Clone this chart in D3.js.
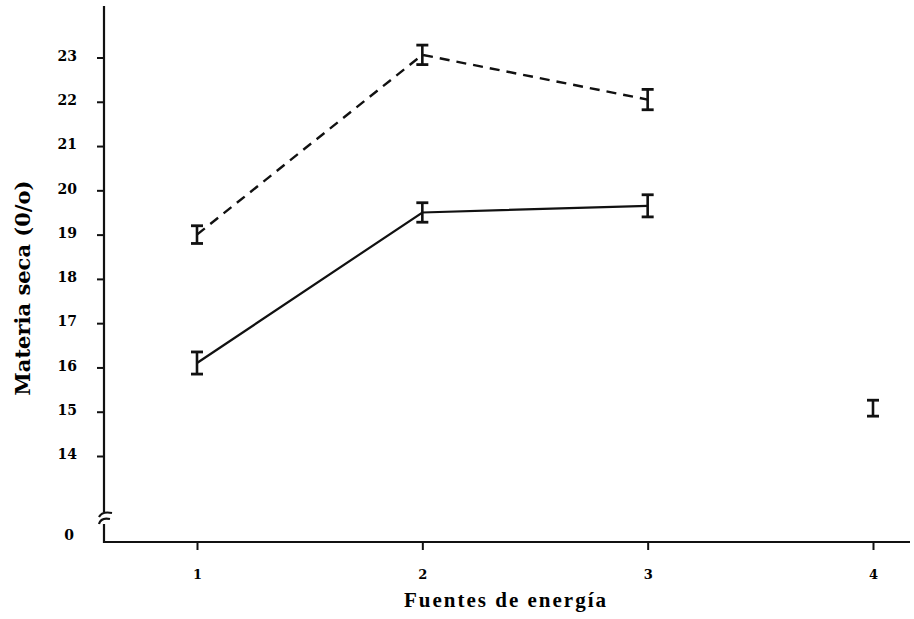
<!DOCTYPE html>
<html>
<head>
<meta charset="utf-8">
<script src="https://cdn.jsdelivr.net/npm/d3@7"></script>
<style>
  html, body { margin: 0; padding: 0; background: #fff; }
  svg { display: block; }
  text { font-family: "Liberation Serif", "DejaVu Serif", serif; fill: #000; }
</style>
</head>
<body>
<svg id="chart" width="914" height="619"></svg>
<script>
// Energy sources on the x axis
const fuentes = [1, 2, 3, 4];

// Dry matter (%) by energy source, with standard error
const serieDiscontinua = [19.0, 23.06, 22.05];
const errorDiscontinua = [0.2, 0.22, 0.23];
const serieContinua = [16.1, 19.5, 19.65];
const errorContinua = [0.25, 0.22, 0.25];
const puntoAislado = [15.08];
const errorAislado = [0.18];

const yTicks = [0, 14, 15, 16, 17, 18, 19, 20, 21, 22, 23];

const svg = d3.select("#chart");

const x = d3.scaleLinear().domain([1, 4]).range([197, 873]);
// broken axis: the 0–14 stretch is compressed below the break
const y = d3.scaleLinear().domain([0, 14, 23]).range([542, 456, 57.5]);

const ink = "#111";
const tickFont = "'DejaVu Serif', serif";

// axes
const yAxis = svg.append("g")
  .attr("transform", "translate(104,0)")
  .call(d3.axisLeft(y).tickValues(yTicks).tickSize(7).tickPadding(20).tickFormat(d3.format("d")));
yAxis.select(".domain").remove();
yAxis.selectAll(".tick line").attr("stroke", ink).attr("stroke-width", 2);
yAxis.selectAll(".tick text")
  .attr("font-size", 14).attr("font-weight", "bold")
  .attr("dy", "0.2em")
  .style("font-family", tickFont);
yAxis.selectAll(".tick").filter(d => d === 0).select("line").remove();
yAxis.selectAll(".tick").filter(d => d === 0).select("text").attr("dy", "-0.2em").attr("x", -30);

const xAxis = svg.append("g")
  .attr("transform", "translate(0,542)")
  .call(d3.axisBottom(x).tickValues(fuentes).tickSize(8).tickPadding(20).tickFormat(d3.format("d")));
xAxis.select(".domain").remove();
xAxis.selectAll(".tick line").attr("stroke", ink).attr("stroke-width", 2);
xAxis.selectAll(".tick text")
  .attr("font-size", 13).attr("font-weight", "bold")
  .style("font-family", tickFont);

// axis lines
svg.append("line").attr("x1", 104).attr("x2", 104).attr("y1", 6).attr("y2", 543)
  .attr("stroke", ink).attr("stroke-width", 2.2);
svg.append("line").attr("x1", 103).attr("x2", 910).attr("y1", 542).attr("y2", 542)
  .attr("stroke", ink).attr("stroke-width", 2.2);

// axis break mark
svg.append("rect").attr("x", 101).attr("y", 512).attr("width", 7).attr("height", 12).attr("fill", "#fff");
svg.append("path").attr("d", "M99,517 Q102,511 112,513").attr("fill", "none").attr("stroke", ink).attr("stroke-width", 2.2);
svg.append("path").attr("d", "M99,524 Q101,517 110,519").attr("fill", "none").attr("stroke", ink).attr("stroke-width", 2.2);

// lines
const line = d3.line().x((d, i) => x(fuentes[i])).y(d => y(d));

svg.append("path").datum(serieDiscontinua)
  .attr("d", line).attr("fill", "none").attr("stroke", ink)
  .attr("stroke-width", 2.4).attr("stroke-dasharray", "10,7");

svg.append("path").datum(serieContinua)
  .attr("d", line).attr("fill", "none").attr("stroke", ink)
  .attr("stroke-width", 2.2);

// error bars
function errorBars(values, errors, offset) {
  const g = svg.append("g");
  values.forEach((v, i) => {
    const cx = x(fuentes[i + offset]);
    const top = y(v + errors[i]);
    const bot = y(v - errors[i]);
    g.append("line").attr("x1", cx).attr("x2", cx).attr("y1", top).attr("y2", bot)
      .attr("stroke", ink).attr("stroke-width", 2.6);
    [top, bot].forEach(yy => {
      g.append("line").attr("x1", cx - 6).attr("x2", cx + 6).attr("y1", yy).attr("y2", yy)
        .attr("stroke", ink).attr("stroke-width", 2.8);
    });
  });
}
errorBars(serieDiscontinua, errorDiscontinua, 0);
errorBars(serieContinua, errorContinua, 0);
errorBars(puntoAislado, errorAislado, 3);

// axis titles
svg.append("text")
  .attr("transform", "translate(30,288) rotate(-90)")
  .attr("text-anchor", "middle")
  .attr("font-size", 21).attr("font-weight", "bold")
  .style("font-family", "'DejaVu Serif', serif")
  .text("Materia seca (0/o)");

svg.append("text")
  .attr("x", 506).attr("y", 607)
  .attr("text-anchor", "middle")
  .attr("font-size", 21).attr("font-weight", "bold")
  .attr("letter-spacing", 2)
  .text("Fuentes de energía");
</script>
</body>
</html>
